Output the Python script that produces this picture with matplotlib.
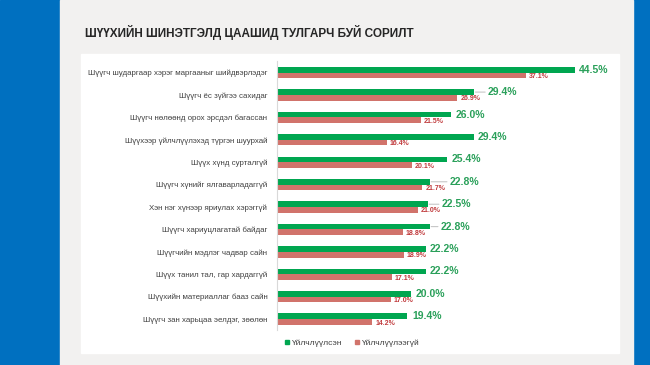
import matplotlib
matplotlib.use("Agg")
import matplotlib.pyplot as plt
from matplotlib.patches import Rectangle
from matplotlib.lines import Line2D

plt.rcParams['font.family'] = ['Liberation Sans', 'DejaVu Sans']

title = "ШҮҮХИЙН ШИНЭТГЭЛД ЦААШИД ТУЛГАРЧ БУЙ СОРИЛТ"
categories = [
    "Шүүгч шударгаар хэрэг маргааныг шийдвэрлэдэг",
    "Шүүгч ёс зүйгээ сахидаг",
    "Шүүгч нөлөөнд орох эрсдэл багассан",
    "Шүүхээр үйлчлүүлэхэд түргэн шуурхай",
    "Шүүх хүнд сурталгүй",
    "Шүүгч хүнийг ялгаварладаггүй",
    "Хэн нэг хүнээр яриулах хэрэггүй",
    "Шүүгч хариуцлагатай байдаг",
    "Шүүгчийн мэдлэг чадвар сайн",
    "Шүүх танил тал, гар хардаггүй",
    "Шүүхийн материаллаг бааз сайн",
    "Шүүгч зан харьцаа эелдэг, зөөлөн",
]
served = [44.5, 29.4, 26.0, 29.4, 25.4, 22.8, 22.5, 22.8, 22.2, 22.2, 20.0, 19.4]
not_served = [37.1, 26.9, 21.5, 16.4, 20.1, 21.7, 21.0, 18.8, 18.9, 17.1, 17.0, 14.2]
series_names = ["Үйлчлүүлсэн", "Үйлчлүүлээгүй"]

W, H = 650, 365
fig = plt.figure(figsize=(6.5, 3.65), dpi=100)

def box(x0, y0, x1, y1, color):
    fig.patches.append(Rectangle((x0 / W, 1 - y1 / H), (x1 - x0) / W, (y1 - y0) / H,
                                 transform=fig.transFigure, color=color, zorder=-10))

box(0, 0, W, H, "#0070c0")
box(60, 0, 633, H, "#f2f1f0")
box(81, 54, 619, 353, "#ffffff")

fig.text(85 / W, 1 - 32 / H, title, fontsize=8.5, fontweight='bold', color='#262626',
         va='center', ha='left')

top_px, bot_px = 61.3, 330.4
ax = fig.add_axes([277 / W, 1 - bot_px / H, (619 - 277) / W, (bot_px - top_px) / H])
ax.set_facecolor('none')
n = len(categories)
ys = list(range(n))
bh = 0.254
green = "#00a650"
red = "#d1736b"
ax.barh([y - bh / 2 for y in ys], served, height=bh, color=green)
ax.barh([y + bh / 2 for y in ys], not_served, height=bh, color=red)
ax.set_xlim(0, (619 - 277) / 6.70)
ax.set_ylim(n - 0.5, -0.5)
ax.set_yticks(ys)
ax.set_yticklabels(categories, fontsize=5.7, color='#404040')
ax.tick_params(axis='y', length=0, pad=7)
ax.set_xticks([])
for s in ['top', 'right', 'bottom']:
    ax.spines[s].set_visible(False)
ax.spines['left'].set_color('#d9d9d9')
ax.spines['left'].set_linewidth(0.8)

# green label offsets in pixels (some with leader lines)
g_off = [4, 14, 4, 4, 4, 20, 14, 11, 4, 4, 5, 5]
for y, v, off in zip(ys, served, g_off):
    kw = {}
    if off > 6:
        kw = dict(arrowprops=dict(arrowstyle='-', color='#bfbfbf', lw=0.7,
                                  shrinkA=0, shrinkB=1))
    ax.annotate(f"{v:.1f}%", xy=(v, y - bh / 2), xytext=(off, 0),
                textcoords='offset pixels', ha='left', va='center',
                fontsize=7.5, fontweight='bold', color='#2aa05a', **kw)
for y, v in zip(ys, not_served):
    ax.annotate(f"{v:.1f}%", xy=(v, y + bh / 2), xytext=(3, -1),
                textcoords='offset pixels', ha='left', va='center',
                fontsize=5, fontweight='bold', color='#c0393b')

handles = [Line2D([], [], marker='s', linestyle='none', color=green, markersize=3),
           Line2D([], [], marker='s', linestyle='none', color=red, markersize=3)]
fig.legend(handles, series_names, loc='center', bbox_to_anchor=(352 / W, 1 - 343 / H),
           ncol=2, frameon=False, fontsize=6, handlelength=0.6, handletextpad=0.3,
           columnspacing=1.5, labelcolor='#404040')

fig.savefig("out.png", dpi=100)
